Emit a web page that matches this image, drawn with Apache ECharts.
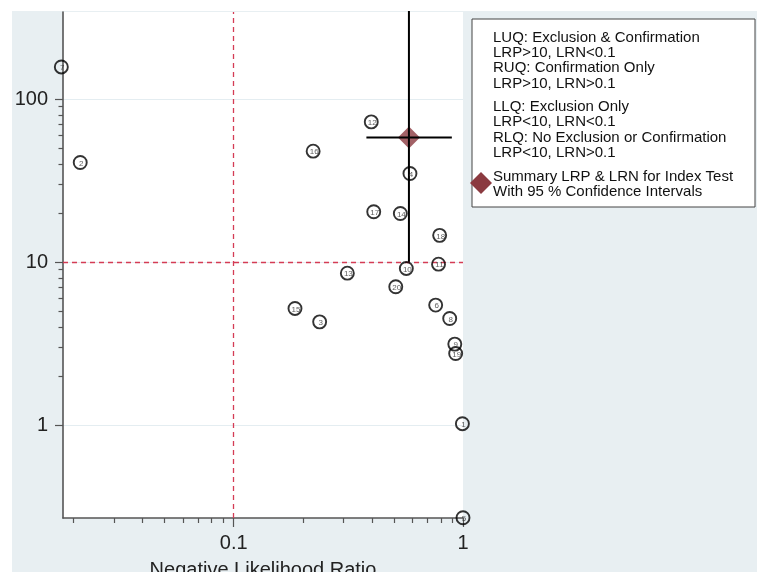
<!DOCTYPE html>
<html><head><meta charset="utf-8">
<script src="https://cdn.jsdelivr.net/npm/echarts@6/dist/echarts.min.js"></script>
<style>html,body{margin:0;padding:0;background:#fff}#c{width:757px;height:572px}</style>
</head><body><div id="c"></div>
<script>
// ---- data ----
const studyIds = [1, 2, 3, 4, 5, 6, 7, 8, 9, 10, 11, 12, 13, 14, 15, 16, 17, 18, 19, 20];
const lrnValues = [0.994, 0.0214, 0.237, 0.587, 1.0, 0.760, 0.0177, 0.875, 0.921, 0.566, 0.782, 0.398, 0.313, 0.533, 0.185, 0.222, 0.408, 0.791, 0.929, 0.509];
const lrpValues = [1.02, 40.9, 4.30, 35.0, 0.27, 5.45, 157.8, 4.51, 3.14, 9.15, 9.72, 72.6, 8.56, 19.9, 5.20, 48.0, 20.4, 14.6, 2.75, 7.06];
const summaryLRN = 0.581;
const summaryLRP = 58.2;
const summaryLRNci = [0.379, 0.894];
const summaryLRPci = [9.9, 600];
const xMajorTicks = [0.1, 1];
const xMinorTicks = [0.02, 0.03, 0.04, 0.05, 0.06, 0.07, 0.08, 0.09, 0.2, 0.3, 0.4, 0.5, 0.6, 0.7, 0.8, 0.9];
const yMajorTicks = [1, 10, 100];
const yMinorTicks = [2, 3, 4, 5, 6, 7, 8, 9, 20, 30, 40, 50, 60, 70, 80, 90];
const xThreshold = 0.1;
const yThreshold = 10;
const xRange = [0.018, 1];
const yRange = [0.269, 343];
const legendGroups = [
  ['LUQ: Exclusion & Confirmation', 'LRP>10, LRN<0.1', 'RUQ: Confirmation Only', 'LRP>10, LRN>0.1'],
  ['LLQ: Exclusion Only', 'LRP<10, LRN<0.1', 'RLQ: No Exclusion or Confirmation', 'LRP<10, LRN>0.1'],
  ['Summary LRP & LRN for Index Test', 'With 95 % Confidence Intervals']
];
const xTitle = 'Negative Likelihood Ratio';

// ---- chart ----
const FONT = 'Liberation Sans, Arial, sans-serif';
const AXC = '#555';
const RED = '#d43c55';
const DIAMOND = '#8b3a40';

const chart = echarts.init(document.getElementById('c'), null, {renderer: 'canvas'});

const points = studyIds.map((id, i) => [lrnValues[i], lrpValues[i], id]);

function mkX(major) {
  return {
    type: 'log', logBase: 10, gridIndex: 0, position: 'bottom',
    min: xRange[0], max: xRange[1],
    name: major ? xTitle : '', nameLocation: 'middle', nameGap: 42,
    nameTextStyle: {fontFamily: FONT, fontSize: 20, color: '#222'},
    axisLine: {show: major, onZero: false, lineStyle: {color: AXC, width: 1.6}},
    axisTick: {show: true, inside: false, length: major ? 9 : 5, customValues: major ? xMajorTicks : xMinorTicks,
      lineStyle: {color: AXC, width: 1.2}},
    axisLabel: {show: major, customValues: xMajorTicks, margin: 15, fontFamily: FONT, fontSize: 20, color: '#222',
      formatter: v => String(v)},
    splitLine: {show: false}
  };
}
function mkY(major) {
  return {
    type: 'log', logBase: 10, gridIndex: 0, position: 'left',
    min: yRange[0], max: yRange[1],
    axisLine: {show: major, onZero: false, lineStyle: {color: AXC, width: 1.6}},
    axisTick: {show: true, inside: false, length: major ? 8 : 4.5, customValues: major ? yMajorTicks : yMinorTicks,
      lineStyle: {color: AXC, width: 1.2}},
    axisLabel: {show: major, customValues: yMajorTicks, margin: 15, fontFamily: FONT, fontSize: 20, color: '#222',
      formatter: v => String(v)},
    splitLine: {show: major, lineStyle: {color: '#e4edf1', width: 1.2}}
  };
}

// legend box graphics
const legendEls = [];
const boxX = 472, boxY = 19, boxW = 283, boxH = 188;
legendEls.push({type: 'rect', shape: {x: boxX, y: boxY, width: boxW, height: boxH},
  style: {fill: '#fff', stroke: '#444', lineWidth: 1}, z: 10});
const groupStarts = [37.7, 107, 177];
const lineStep = 15.3;
legendGroups.forEach((g, gi) => {
  g.forEach((t, li) => {
    legendEls.push({type: 'text', x: 493, y: groupStarts[gi] + li * lineStep, z: 11,
      style: {text: t, fill: '#111', font: '15px ' + FONT, verticalAlign: 'middle', align: 'left'}});
  });
});
legendEls.push({type: 'polygon', shape: {points: [[481, 172], [492, 183], [481, 194], [470, 183]]},
  style: {fill: DIAMOND}, z: 12});

chart.setOption({
  backgroundColor: '#fff',
  animation: false,
  graphic: [
    {type: 'rect', shape: {x: 12, y: 11, width: 757 - 12, height: 572 - 11}, style: {fill: '#e8eff2'}, z: -10, silent: true},
    ...legendEls
  ],
  grid: {left: 63, right: 294, top: 12, bottom: 54, show: true, backgroundColor: '#fff', borderWidth: 0,
    containLabel: false, outerBoundsMode: 'none'},
  xAxis: [mkX(true), mkX(false)],
  yAxis: [mkY(true), mkY(false)],
  series: [
    {
      type: 'scatter', name: 'thresholds', data: [], xAxisIndex: 0, yAxisIndex: 0,
      markLine: {silent: true, symbol: 'none', label: {show: false},
        lineStyle: {color: RED, type: [5, 4], width: 1.3},
        data: [{xAxis: xThreshold}, {yAxis: yThreshold}]},
      z: 1
    },
    {
      type: 'scatter', name: 'studies', data: points, clip: false,
      symbol: 'circle', symbolSize: 13,
      itemStyle: {color: 'rgba(255,255,255,0)', borderColor: '#000', borderWidth: 1.9},
      label: {show: true, position: 'inside', formatter: p => p.data[2], fontSize: 8, color: '#333',
        fontFamily: FONT, offset: [1, 1]},
      z: 5
    },
    {
      type: 'scatter', name: 'Summary LRP & LRN', data: [[summaryLRN, summaryLRP]],
      symbol: 'diamond', symbolSize: 22, itemStyle: {color: DIAMOND}, z: 3
    },
    {
      type: 'line', name: 'LRN CI', data: [[summaryLRNci[0], summaryLRP], [summaryLRNci[1], summaryLRP]],
      symbol: 'none', clip: true, lineStyle: {color: '#000', width: 2}, z: 4
    },
    {
      type: 'line', name: 'LRP CI', data: [[summaryLRN, summaryLRPci[0]], [summaryLRN, summaryLRPci[1]]],
      symbol: 'none', clip: true, lineStyle: {color: '#000', width: 2}, z: 4
    }
  ]
});
</script>
</body></html>
